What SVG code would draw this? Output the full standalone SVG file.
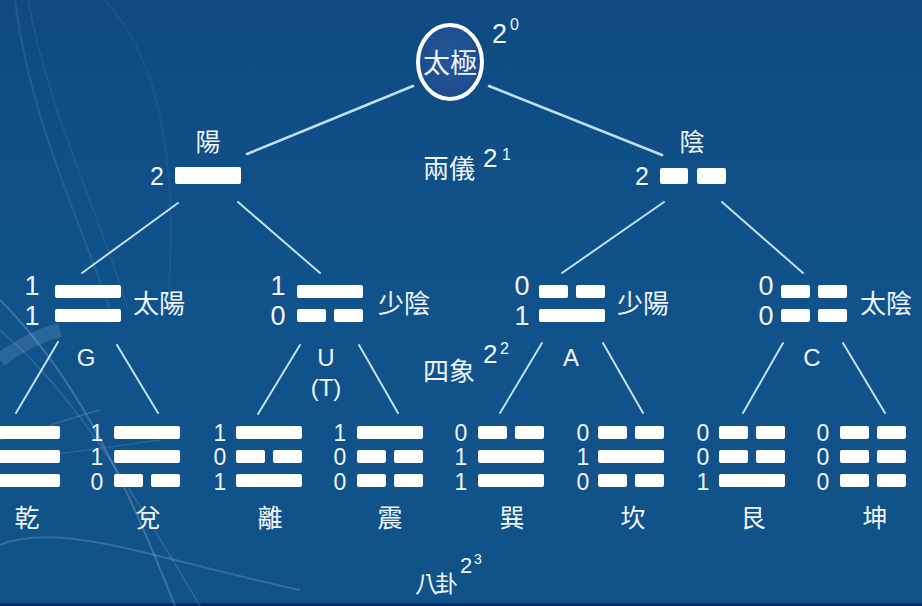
<svg xmlns="http://www.w3.org/2000/svg" xmlns:xlink="http://www.w3.org/1999/xlink" width="922" height="606" viewBox="0 0 922 606">
  <defs>
    <linearGradient id="bg" x1="0" y1="0" x2="0" y2="1">
      <stop offset="0" stop-color="#0f4a82"/>
      <stop offset="0.5" stop-color="#11528b"/>
      <stop offset="1" stop-color="#115289"/>
    </linearGradient>
    <radialGradient id="rootfill" cx="0.5" cy="0.45" r="0.6">
      <stop offset="0" stop-color="#24589a"/>
      <stop offset="1" stop-color="#1a4a8c"/>
    </radialGradient>
    <style>
      .t { font-family: "Liberation Sans", "Noto Sans CJK TC", sans-serif; fill: #eef5fc; }
      .c { font-family: "Noto Sans CJK TC", "Noto Sans CJK SC", sans-serif; fill: #eef5fc; }
      .mid { text-anchor: middle; }
      .bar { fill: #ffffff; }
      .conn line { stroke: #bfe0f6; stroke-width: 2; stroke-linecap: round; }
      .conn .top { stroke-width: 2.6; }
      .deco { fill: none; stroke: #cfe3ff; }
    </style>
    <rect id="yg" class="bar" width="66" height="13" rx="2"/>
    <g id="yn" class="bar"><rect width="29" height="13" rx="2"/><rect x="37" width="29" height="13" rx="2"/></g>
  </defs>

  <!-- background -->
  <rect width="922" height="606" fill="url(#bg)"/>
  <rect y="603" width="922" height="3" fill="#0a2d6b"/>
  <g id="decoration">
    <path class="deco" stroke-opacity="0.10" stroke-width="2" d="M15 0 C30 120 80 220 110 310"/>
    <path class="deco" stroke-opacity="0.08" stroke-width="1.5" d="M28 0 C48 110 98 210 128 310"/>
    <path class="deco" stroke-opacity="0.06" stroke-width="2" d="M105 0 C160 60 178 160 168 300"/>
    <path class="deco" stroke-opacity="0.22" stroke-width="2" d="M0 300 C60 360 110 440 175 606"/>
    <path class="deco" stroke-opacity="0.16" stroke-width="1.5" d="M0 330 C70 390 120 470 200 606"/>
    <path class="deco" stroke="#d8c8ff" stroke-opacity="0.20" stroke-width="2" d="M0 545 C60 520 160 560 300 590"/>
    <path class="deco" stroke="#d8c8ff" stroke-opacity="0.18" stroke-width="1.5" d="M0 440 C40 430 70 418 100 410"/>
    <path class="deco" stroke-opacity="0.14" stroke-width="1.5" d="M0 460 C60 455 120 445 160 440"/>
    <path class="deco" stroke="#8fd0f0" stroke-opacity="0.14" stroke-width="14" d="M0 360 C20 345 40 335 60 330"/>
  </g>

  <!-- connectors -->
  <g id="connectors" class="conn">
    <line class="top" x1="413" y1="86" x2="247" y2="154"/>
    <line class="top" x1="489" y1="86" x2="662" y2="155"/>
    <line x1="178" y1="203" x2="82" y2="273"/>
    <line x1="238" y1="202" x2="320" y2="273"/>
    <line x1="664" y1="202" x2="562" y2="273"/>
    <line x1="722" y1="202" x2="803" y2="273"/>
    <line x1="58" y1="342" x2="16" y2="413"/>
    <line x1="117" y1="345" x2="158" y2="413"/>
    <line x1="300" y1="345" x2="258" y2="414"/>
    <line x1="359" y1="345" x2="398" y2="413"/>
    <line x1="542" y1="343" x2="500" y2="413"/>
    <line x1="603" y1="343" x2="643" y2="413"/>
    <line x1="783" y1="343" x2="743" y2="413"/>
    <line x1="843" y1="343" x2="885" y2="413"/>
  </g>

  <!-- level labels -->
  <g id="level-labels">
    <text class="t" x="492" y="43" font-size="27">2</text>
    <text class="t" x="510" y="30" font-size="16">0</text>
    <text class="c" x="423" y="178" font-size="26">兩儀</text>
    <text class="t" x="483" y="167" font-size="26">2</text>
    <text class="t" x="502" y="160" font-size="16">1</text>
    <text class="c" x="423" y="381" font-size="26">四象</text>
    <text class="t" x="483" y="363" font-size="26">2</text>
    <text class="t" x="500" y="354" font-size="16">2</text>
    <text class="c" x="415" y="592" font-size="23" letter-spacing="-3">八卦</text>
    <text class="t" x="460" y="573" font-size="22">2</text>
    <text class="t" x="474" y="564" font-size="14">3</text>
  </g>

  <!-- root -->
  <g id="taiji">
    <ellipse cx="450" cy="62" rx="32" ry="37" fill="url(#rootfill)" stroke="#ffffff" stroke-width="4"/>
    <text class="c mid" x="450" y="73" font-size="27">太極</text>
  </g>

  <!-- level 1 -->
  <g id="yang">
    <text class="c mid" x="208" y="151" font-size="25">陽</text>
    <text class="t mid" x="157" y="185" font-size="25">2</text>
    <rect class="bar" x="175" y="167" width="66" height="17" rx="2"/>
  </g>
  <g id="yin">
    <text class="c mid" x="692" y="151" font-size="25">陰</text>
    <text class="t mid" x="642" y="185" font-size="25">2</text>
    <rect class="bar" x="660" y="168" width="28" height="16" rx="2"/>
    <rect class="bar" x="697" y="168" width="29" height="16" rx="2"/>
  </g>

  <!-- level 2 -->
  <g id="taiyang">
    <text class="t mid" x="32" y="295" font-size="27">1</text>
    <text class="t mid" x="32" y="325" font-size="27">1</text>
    <use href="#yg" x="55" y="285"/>
    <use href="#yg" x="55" y="309"/>
    <text class="c" x="133" y="313" font-size="26">太陽</text>
    <text class="t mid" x="86" y="366" font-size="24">G</text>
  </g>
  <g id="shaoyin">
    <text class="t mid" x="278" y="295" font-size="27">1</text>
    <text class="t mid" x="278" y="325" font-size="27">0</text>
    <use href="#yg" x="297" y="285"/>
    <use href="#yn" x="297" y="309"/>
    <text class="c" x="378" y="313" font-size="26">少陰</text>
    <text class="t mid" x="326" y="366" font-size="24">U</text>
    <text class="t mid" x="326" y="396" font-size="24">(T)</text>
  </g>
  <g id="shaoyang">
    <text class="t mid" x="522" y="295" font-size="27">0</text>
    <text class="t mid" x="522" y="325" font-size="27">1</text>
    <use href="#yn" x="539" y="285"/>
    <use href="#yg" x="539" y="309"/>
    <text class="c" x="617" y="313" font-size="26">少陽</text>
    <text class="t mid" x="571" y="366" font-size="24">A</text>
  </g>
  <g id="taiyin">
    <text class="t mid" x="766" y="295" font-size="27">0</text>
    <text class="t mid" x="766" y="325" font-size="27">0</text>
    <use href="#yn" x="781" y="285"/>
    <use href="#yn" x="781" y="309"/>
    <text class="c" x="860" y="313" font-size="26">太陰</text>
    <text class="t mid" x="812" y="366" font-size="24">C</text>
  </g>

  <!-- level 3 -->
  <g id="qian">
    <use href="#yg" x="-6" y="426"/>
    <use href="#yg" x="-6" y="450"/>
    <use href="#yg" x="-6" y="474"/>
    <text class="c mid" x="27" y="527" font-size="25">乾</text>
  </g>
  <g id="dui">
    <text class="t mid" x="97" y="441" font-size="23">1</text>
    <text class="t mid" x="97" y="465" font-size="23">1</text>
    <text class="t mid" x="97" y="490" font-size="23">0</text>
    <use href="#yg" x="114" y="426"/>
    <use href="#yg" x="114" y="450"/>
    <use href="#yn" x="114" y="474"/>
    <text class="c mid" x="148" y="527" font-size="25">兌</text>
  </g>
  <g id="li">
    <text class="t mid" x="220" y="441" font-size="23">1</text>
    <text class="t mid" x="220" y="465" font-size="23">0</text>
    <text class="t mid" x="220" y="490" font-size="23">1</text>
    <use href="#yg" x="236" y="426"/>
    <use href="#yn" x="236" y="450"/>
    <use href="#yg" x="236" y="474"/>
    <text class="c mid" x="270" y="527" font-size="25">離</text>
  </g>
  <g id="zhen">
    <text class="t mid" x="340" y="441" font-size="23">1</text>
    <text class="t mid" x="340" y="465" font-size="23">0</text>
    <text class="t mid" x="340" y="490" font-size="23">0</text>
    <use href="#yg" x="357" y="426"/>
    <use href="#yn" x="357" y="450"/>
    <use href="#yn" x="357" y="474"/>
    <text class="c mid" x="390" y="527" font-size="25">震</text>
  </g>
  <g id="xun">
    <text class="t mid" x="461" y="441" font-size="23">0</text>
    <text class="t mid" x="461" y="465" font-size="23">1</text>
    <text class="t mid" x="461" y="490" font-size="23">1</text>
    <use href="#yn" x="478" y="426"/>
    <use href="#yg" x="478" y="450"/>
    <use href="#yg" x="478" y="474"/>
    <text class="c mid" x="512" y="527" font-size="25">巽</text>
  </g>
  <g id="kan">
    <text class="t mid" x="583" y="441" font-size="23">0</text>
    <text class="t mid" x="583" y="465" font-size="23">1</text>
    <text class="t mid" x="583" y="490" font-size="23">0</text>
    <use href="#yn" x="598" y="426"/>
    <use href="#yg" x="598" y="450"/>
    <use href="#yn" x="598" y="474"/>
    <text class="c mid" x="633" y="527" font-size="25">坎</text>
  </g>
  <g id="gen">
    <text class="t mid" x="703" y="441" font-size="23">0</text>
    <text class="t mid" x="703" y="465" font-size="23">0</text>
    <text class="t mid" x="703" y="490" font-size="23">1</text>
    <use href="#yn" x="719" y="426"/>
    <use href="#yn" x="719" y="450"/>
    <use href="#yg" x="719" y="474"/>
    <text class="c mid" x="753" y="527" font-size="25">艮</text>
  </g>
  <g id="kun">
    <text class="t mid" x="823" y="441" font-size="23">0</text>
    <text class="t mid" x="823" y="465" font-size="23">0</text>
    <text class="t mid" x="823" y="490" font-size="23">0</text>
    <use href="#yn" x="840" y="426"/>
    <use href="#yn" x="840" y="450"/>
    <use href="#yn" x="840" y="474"/>
    <text class="c mid" x="875" y="527" font-size="25">坤</text>
  </g>
</svg>
